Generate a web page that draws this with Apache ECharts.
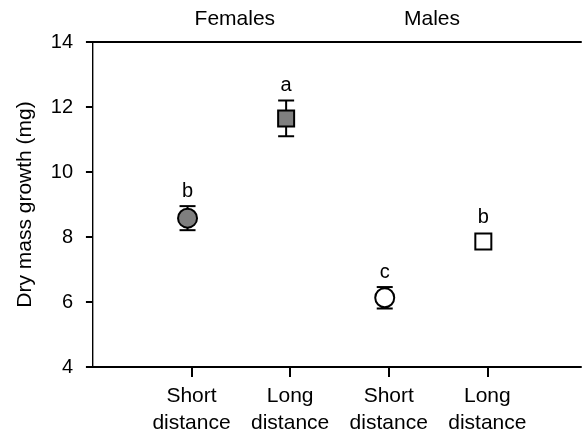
<!DOCTYPE html>
<html><head><meta charset="utf-8">
<script src="https://cdn.jsdelivr.net/npm/echarts@6/dist/echarts.min.js"></script>
<style>html,body{margin:0;padding:0;background:#fff}#c{width:582px;height:434px}</style>
</head><body><div id="c"></div>
<script>
// ---- data ----
const categories = ['Short\ndistance', 'Long\ndistance', 'Short\ndistance', 'Long\ndistance'];
const groups = ['Females', 'Males'];
const means = [8.58, 11.65, 6.13, 7.86];
const errors = [0.37, 0.55, 0.33, 0.1];
const letters = ['b', 'a', 'c', 'b'];
const shapes = ['circle', 'rect', 'circle', 'rect'];
const fills = ['#7f7f7f', '#7f7f7f', '#ffffff', '#ffffff'];
const yMin = 4, yMax = 14, yStep = 2;

// ---- style ----
const FONT = '"Liberation Sans", Arial, sans-serif';
const OFF = -4;               // marker horizontal offset (px)
const SIZE = {circle: 19, rect: 16};
const CAP = 8;

const xs = categories.map((_, i) => i + 1);
const groupCenters = groups.map((_, g) => 2 * g + 1.5);

const pts = means.map((m, i) => ({
  value: [xs[i], m],
  symbol: shapes[i],
  symbolSize: SIZE[shapes[i]],
  itemStyle: {color: fills[i], borderColor: '#000', borderWidth: 2, opacity: 1}
}));
const errData = means.map((m, i) => [xs[i], m - errors[i], m + errors[i], m, SIZE[shapes[i]]]);

const chart = echarts.init(document.getElementById('c'), null, {renderer: 'canvas'});
chart.setOption({
  animation: false,
  backgroundColor: '#fff',
  textStyle: {fontFamily: FONT, color: '#000'},
  grid: {left: 88, top: 42, width: 493, height: 325, containLabel: false, outerBoundsMode: 'none'},
  xAxis: [{
    type: 'value', min: -0.05, max: 4.95, position: 'bottom',
    splitLine: {show: false},
    axisLine: {show: true, lineStyle: {color: '#000', width: 2}},
    axisTick: {show: true, customValues: xs, length: 10, inside: false, lineStyle: {color: '#000', width: 2}},
    axisLabel: {customValues: xs, margin: 16, fontSize: 21, lineHeight: 27, color: '#000', fontFamily: FONT,
      formatter: v => categories[Math.round(v) - 1] || ''}
  }, {
    type: 'value', min: -0.05, max: 4.95, position: 'top',
    splitLine: {show: false},
    axisLine: {show: true, lineStyle: {color: '#000', width: 2}},
    axisTick: {show: false},
    axisLabel: {customValues: groupCenters, margin: 12, fontSize: 21, color: '#000', fontFamily: FONT,
      padding: [0, 12, 0, 0],
      formatter: v => groups[Math.round((v - 1.5) / 2)] || ''}
  }],
  yAxis: [{
    type: 'value', min: yMin, max: yMax, interval: yStep, position: 'left',
    name: 'Dry mass growth (mg)', nameLocation: 'middle', nameGap: 52,
    nameTextStyle: {fontSize: 21, color: '#000', fontFamily: FONT},
    splitLine: {show: false},
    axisLine: {show: true, lineStyle: {color: '#000', width: 2}},
    axisTick: {show: true, length: 7, inside: false, lineStyle: {color: '#000', width: 2}},
    axisLabel: {margin: 15, fontSize: 20, color: '#000', fontFamily: FONT}
  }, {
    type: 'value', min: yMin, max: yMax, interval: yStep, position: 'right',
    splitLine: {show: false},
    axisLine: {show: true, lineStyle: {color: '#999', width: 1}},
    axisTick: {show: false}, axisLabel: {show: false}
  }],
  series: [{
    type: 'custom', xAxisIndex: 0, yAxisIndex: 0, z: 1,
    data: errData,
    renderItem: (params, api) => {
      const x = api.coord([api.value(0), api.value(1)])[0] + OFF;
      const lo = api.coord([api.value(0), api.value(1)])[1];
      const hi = api.coord([api.value(0), api.value(2)])[1];
      const st = {stroke: '#000', lineWidth: 2};
      return {type: 'group', children: [
        {type: 'line', shape: {x1: x, y1: lo, x2: x, y2: hi}, style: st},
        {type: 'line', shape: {x1: x - CAP, y1: hi, x2: x + CAP, y2: hi}, style: st},
        {type: 'line', shape: {x1: x - CAP, y1: lo, x2: x + CAP, y2: lo}, style: st}
      ]};
    }
  }, {
    type: 'scatter', xAxisIndex: 0, yAxisIndex: 0, z: 3,
    symbolOffset: [OFF, 0],
    itemStyle: {opacity: 1},
    data: pts
  }, {
    type: 'custom', xAxisIndex: 0, yAxisIndex: 0, z: 4,
    data: errData.map((d, i) => d.concat([i])),
    renderItem: (params, api) => {
      const x = api.coord([api.value(0), api.value(2)])[0] + OFF;
      const hi = api.coord([api.value(0), api.value(2)])[1];
      const mid = api.coord([api.value(0), api.value(3)])[1];
      const top = Math.min(hi, mid - api.value(4) / 2 - 1);
      return {type: 'text', style: {x: x, y: top - 15, text: letters[api.value(5)],
        fontSize: 20, fontFamily: FONT, fill: '#000', align: 'center', verticalAlign: 'middle'}};
    }
  }]
});
</script></body></html>
